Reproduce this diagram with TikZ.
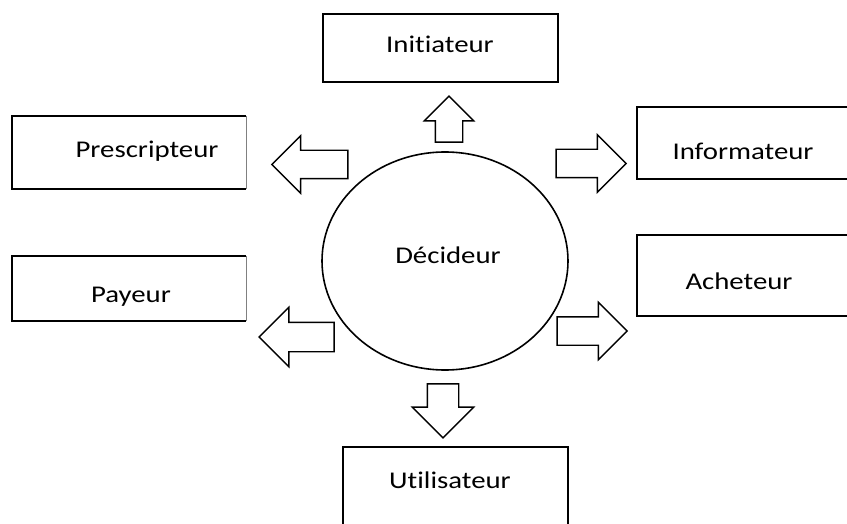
\documentclass[tikz,border=0pt]{standalone}
\usepackage{fontspec}
\setmainfont{Carlito}[Ligatures=NoCommon]
\usetikzlibrary{shapes.geometric,shapes.arrows}
\newcommand{\wide}[1]{\scalebox{1.2}[1]{#1}}

\begin{document}
\begin{tikzpicture}[x=1pt, y=-1pt, line width=1.6pt,
  box/.style={draw, rectangle, inner sep=0pt},
  txt/.style={font=\fontsize{24}{28}\selectfont, inner sep=0pt, anchor=base},
  blk/.style={draw, single arrow, inner xsep=0pt, inner ysep=13.5pt, line width=1.4pt,
    single arrow head extend=14.5pt}]
  \useasboundingbox (0,0) rectangle (847,524);
  \clip (0,0) rectangle (847,524);

  % centre
  \node[draw, ellipse, minimum width=246pt, minimum height=218pt] (dec) at (445,261) {};
  \node[txt] (dect) at (448,263) {\wide{Décideur}};

  % boxes
  \node[box, minimum width=235pt, minimum height=68pt] (initbox) at (440.5,48) {};
  \node[txt] (init) at (440,53) {\wide{Initiateur}};

  \node[box, draw=none, minimum width=232pt, minimum height=71pt] (prescbox) at (129,152.5) {};
  \draw (prescbox.north east) -- (prescbox.north west) -- (prescbox.south west) -- (prescbox.south east);
  \draw[gray, line width=0.6pt] (prescbox.north east) -- (prescbox.south east);
  \node[txt] (presc) at (147,158) {\wide{Prescripteur}};

  \node[box, draw=none, minimum width=232pt, minimum height=63pt] (payboxx) at (129,288.5) {};
  \draw (payboxx.north east) -- (payboxx.north west) -- (payboxx.south west) -- (payboxx.south east);
  \draw[gray, line width=0.6pt] (payboxx.north east) -- (payboxx.south east);
  \node[txt] (pay) at (131,302) {\wide{Payeur}};

  \node[box, minimum width=233pt, minimum height=72pt] (infobox) at (753.5,143) {};
  \node[txt] (info) at (743,160) {\wide{Informateur}};

  \node[box, minimum width=233pt, minimum height=81pt] (achbox) at (753.5,275.5) {};
  \node[txt] (ach) at (739,290) {\wide{Acheteur}};

  \node[box, minimum width=225pt, minimum height=93pt] (utilbox) at (455.5,493.5) {};
  \node[txt] (util) at (450,488) {\wide{Utilisateur}};

  % block arrows
  \node[blk, minimum height=46pt, inner ysep=13pt, single arrow head extend=11pt, rotate=90] (initarr) at (449,126) {};
  \node[blk, minimum height=76pt, rotate=180] (prescarr) at (317,164.5) {};
  \node[blk, minimum height=75pt, inner ysep=14pt, single arrow head extend=15pt, rotate=180] (payarr) at (304,337) {};
  \node[blk, minimum height=70pt] (infoarr) at (584,163.5) {};
  \node[blk, minimum height=70pt] (acharr) at (585,331) {};
  \node[blk, minimum height=54pt, inner ysep=15pt, single arrow head extend=15pt, rotate=-90] (utilarr) at (443,403) {};
\end{tikzpicture}
\end{document}
